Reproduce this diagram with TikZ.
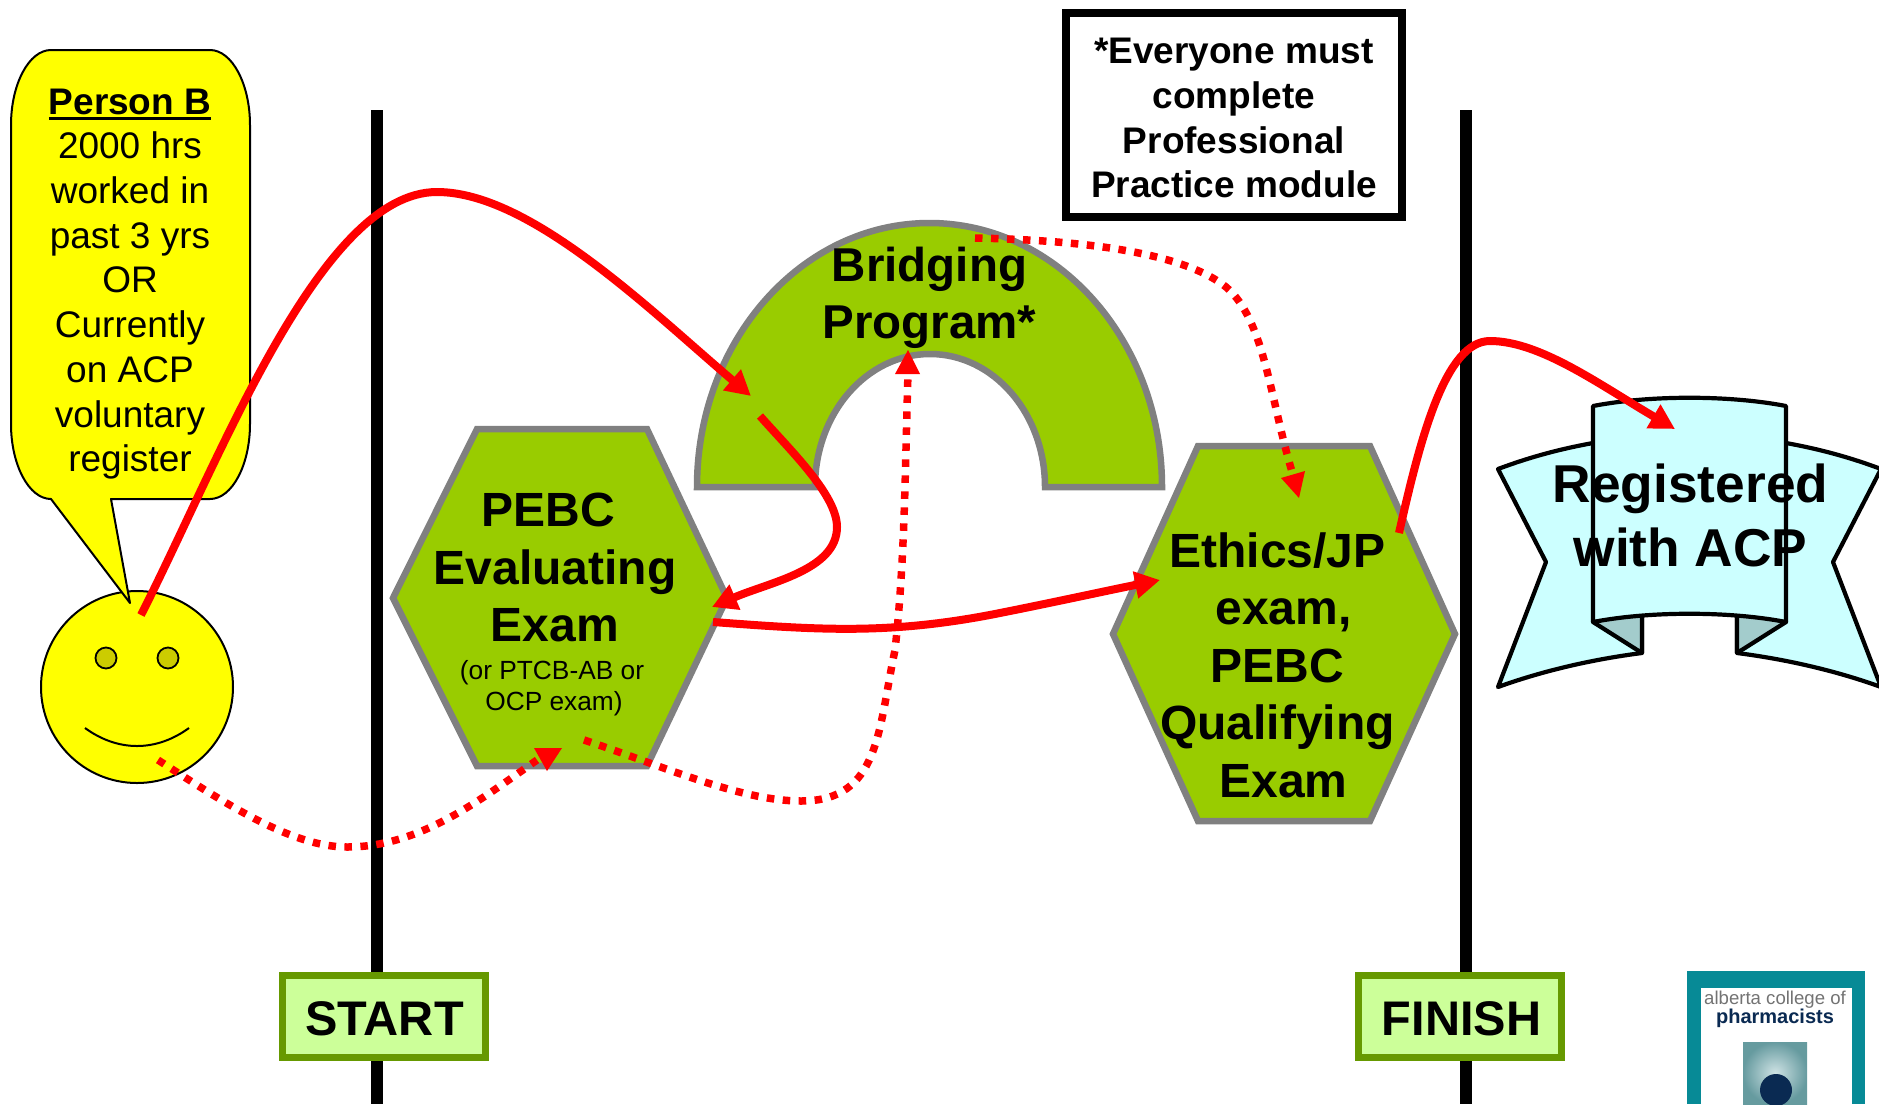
\documentclass[tikz,border=0pt]{standalone}
\usepackage{fontspec}
\setmainfont{Liberation Sans}
\usetikzlibrary{arrows.meta}
\definecolor{hexgreen}{HTML}{99CC00}
\definecolor{hexgrey}{HTML}{808080}
\definecolor{boxgreen}{HTML}{CCFF99}
\definecolor{boxedge}{HTML}{669900}
\definecolor{ribbon}{HTML}{CCFFFF}
\definecolor{ribbonfold}{HTML}{A3CCCC}
\definecolor{eyecol}{HTML}{CCCC00}
\definecolor{sunny}{HTML}{FFFF00}
\definecolor{logoteal}{HTML}{078A96}
\definecolor{logonavy}{HTML}{0A2A52}
\newcommand{\thickul}[1]{\leavevmode\vtop{\hbox{#1}\kern3pt\hrule height 2.8pt}}
\tikzset{
  hexshape/.style={draw=hexgrey,fill=hexgreen,line width=6.5pt,line join=miter},
  ribbonshape/.style={draw=black,fill=ribbon,line width=4.2pt,line join=round},
  foldshape/.style={draw=black,fill=ribbonfold,line width=4.2pt,line join=round},
  solidarrow/.style={draw=red,line width=8pt},
  dotline/.style={draw=red,line width=7.5pt,dash pattern=on 7.5pt off 8.5pt},
  headtip/.style={-{Triangle[length=25pt,width=26pt]}},
  bigtext/.style={align=center,inner sep=0pt,font=\bfseries\fontsize{48}{57.5}\selectfont},
  endbox/.style={draw=boxedge,fill=boxgreen,line width=7pt,minimum width=203pt,minimum height=82pt,inner sep=0pt,font=\bfseries\fontsize{48.6}{57.5}\selectfont},
  barline/.style={draw=black,line width=11.5pt}
}
\begin{document}
\begin{tikzpicture}[x=1pt,y=-1pt]
\useasboundingbox (0,0) rectangle (1879,1104);
% vertical bars
\coordinate (startTop) at (377,110);
\coordinate (startBot) at (377,1104);
\coordinate (finishTop) at (1466,110);
\coordinate (finishBot) at (1466,1104);
\draw[barline] (startTop) -- (startBot);
\draw[barline] (finishTop) -- (finishBot);
% face
\node[circle,draw=black,fill=sunny,line width=2pt,minimum size=192pt,inner sep=0pt] (face) at (137,687) {};
\node[circle,draw=black,fill=eyecol,line width=1.8pt,minimum size=21pt,inner sep=0pt] (eyeL) at (106,658) {};
\node[circle,draw=black,fill=eyecol,line width=1.8pt,minimum size=21pt,inner sep=0pt] (eyeR) at (168,658) {};
\draw[black,line width=2pt] (85,728) .. controls (118,752) and (156,752) .. (189,728);
% callout
\draw[fill=sunny,draw=black,line width=2pt,line join=round]
  (51,50) .. controls (29,50) and (11,84) .. (11,125) -- (11,424)
  .. controls (11,465) and (29,499) .. (51,499)
  -- (130,603) -- (111,499) -- (210,499)
  .. controls (232,499) and (250,465) .. (250,424) -- (250,125)
  .. controls (250,84) and (232,50) .. (210,50) -- cycle;
\node[align=center,inner sep=0pt,font=\fontsize{37}{44.7}\selectfont] (calloutText) at (130,284)
  {\textbf{\thickul{Person B}}\\2000 hrs\\worked in\\past 3 yrs\\OR\\Currently\\on ACP\\voluntary\\register};
% bridging arch
\draw[hexshape] (697,487) arc[start angle=180,end angle=0,x radius=232.5pt,y radius=264pt]
  -- (1045,487) arc[start angle=0,end angle=180,x radius=115pt,y radius=133pt] -- cycle;
\node[bigtext,font=\bfseries\fontsize{47.5}{57}\selectfont] (bridging) at (929.5,298) {Bridging\\Program*};
% hexagons
\draw[hexshape] (393,598) -- (477,429) -- (647,429) -- (727,598) -- (647,766) -- (477,766) -- cycle;
\node[bigtext] (pebc) at (555,567.5) {PEBC\hspace*{14pt}\\Evaluating\\Exam};
\node[align=center,inner sep=0pt,font=\fontsize{26.3}{31.5}\selectfont] (pebcSub) at (552,688) {(or PTCB-AB or\\\hspace*{4pt}OCP exam)};
\draw[hexshape] (1113,634) -- (1198,446) -- (1370,446) -- (1455,634) -- (1370,821) -- (1198,821) -- cycle;
\node[bigtext] (ethics) at (1277.5,665) {Ethics/JP\\\hspace*{12pt}exam,\\PEBC\\Qualifying\\\hspace*{12pt}Exam};
% ribbon
\draw[ribbonshape] (1498,469) .. controls (1530,457) and (1560,449) .. (1593,443) -- (1642,443) -- (1642,653)
  .. controls (1595,659) and (1545,670) .. (1498,687) -- (1546,562) -- cycle;
\draw[ribbonshape] (1881,469) .. controls (1849,457) and (1819,449) .. (1786,443) -- (1737,443) -- (1737,653)
  .. controls (1784,659) and (1834,670) .. (1881,687) -- (1833,562) -- cycle;
\draw[foldshape] (1593,622) -- (1642,653) -- (1642,610) -- cycle;
\draw[foldshape] (1786,622) -- (1737,653) -- (1737,610) -- cycle;
\draw[ribbonshape] (1593,406) .. controls (1650,395) and (1729,395) .. (1786,406) -- (1786,622)
  .. controls (1729,611) and (1650,611) .. (1593,622) -- cycle;
\node[bigtext,font=\bfseries\fontsize{53.3}{64}\selectfont] (registered) at (1690.5,515.5) {Registered\\with ACP};
% note
\node[draw=black,fill=white,line width=8.5pt,minimum width=336pt,minimum height=204pt,align=center,inner sep=0pt,font=\bfseries\fontsize{37}{44.7}\selectfont] (note) at (1234,115)
  {\rule{0pt}{32pt}*Everyone must\\complete\\Professional\\Practice module};
% start / finish
\node[endbox] (start) at (383.5,1016) {\rule{0pt}{40pt}\hspace*{2pt}START};
\node[endbox] (finish) at (1460,1016) {\rule{0pt}{40pt}\hspace*{3pt}FINISH};
% logo
\fill[logoteal] (1687,971) rectangle (1865,1104);
\fill[white] (1701,988) rectangle (1852,1104);
\node[anchor=base,inner sep=0pt,text=black!55,font=\fontsize{18.6}{22}\selectfont] (logoA) at (1775,1004) {alberta college of};
\node[anchor=base,inner sep=0pt,text=logonavy,font=\bfseries\fontsize{20}{24}\selectfont] (logoC) at (1775,1023) {pharmacists};
\shade[inner color=black!5!white!85!logoteal,outer color=black!35!white!60!logoteal] (1743,1042) rectangle (1807,1104);
\fill[logonavy] (1776,1090) circle[radius=16pt];
% connectors
\coordinate (aStart) at (141,615);
\coordinate (aPeak) at (437,192);
\coordinate (aEnd) at (751,396);
\draw[solidarrow,headtip] (aStart) .. controls (220,460) and (320,192) .. (aPeak) .. controls (530,192) and (650,310) .. (aEnd);
\coordinate (bStart) at (760,416);
\coordinate (bMid) at (837,527);
\coordinate (bEnd) at (712,607);
\draw[solidarrow,headtip] (bStart) .. controls (790,450) and (837,495) .. (bMid) .. controls (837,570) and (770,582) .. (bEnd);
\coordinate (cStart) at (713,622);
\coordinate (cMid) at (1000,613);
\coordinate (cEnd) at (1160,580);
\draw[solidarrow,headtip] (cStart) .. controls (820,630) and (890,635) .. (cMid) .. controls (1060,601) and (1110,590) .. (cEnd);
\coordinate (dStart) at (1399,533);
\coordinate (dPeak) at (1490,341);
\coordinate (dEnd) at (1675,429);
\draw[solidarrow,headtip] (dStart) .. controls (1420,440) and (1445,341) .. (dPeak) .. controls (1540,341) and (1600,385) .. (dEnd);
\coordinate (eStart) at (158,760);
\coordinate (eLow) at (347,847);
\coordinate (eEnd) at (537,760);
\draw[dotline] (eStart) .. controls (220,800) and (290,847) .. (eLow) .. controls (420,847) and (480,800) .. (eEnd);
\fill[red] (534,748) -- (562,748) -- (547,771) -- cycle;
\coordinate (fStart) at (584,740);
\coordinate (fLow) at (801,801);
\coordinate (fMid) at (895,650);
\coordinate (fEnd) at (908,373);
\draw[dotline] (fStart) .. controls (660,765) and (740,801) .. (fLow) .. controls (880,801) and (878,730) .. (fMid) .. controls (905,560) and (905,470) .. (fEnd);
\fill[red] (895,374) -- (920,374) -- (908,350) -- cycle;
\coordinate (gStart) at (975,238);
\coordinate (gMid) at (1226,287);
\coordinate (gEnd) at (1293,475);
\draw[dotline] (gStart) .. controls (1070,240) and (1180,250) .. (gMid) .. controls (1265,320) and (1270,400) .. (gEnd);
\fill[red] (1281,478) -- (1305,471) -- (1299,498) -- cycle;
\end{tikzpicture}
\end{document}
